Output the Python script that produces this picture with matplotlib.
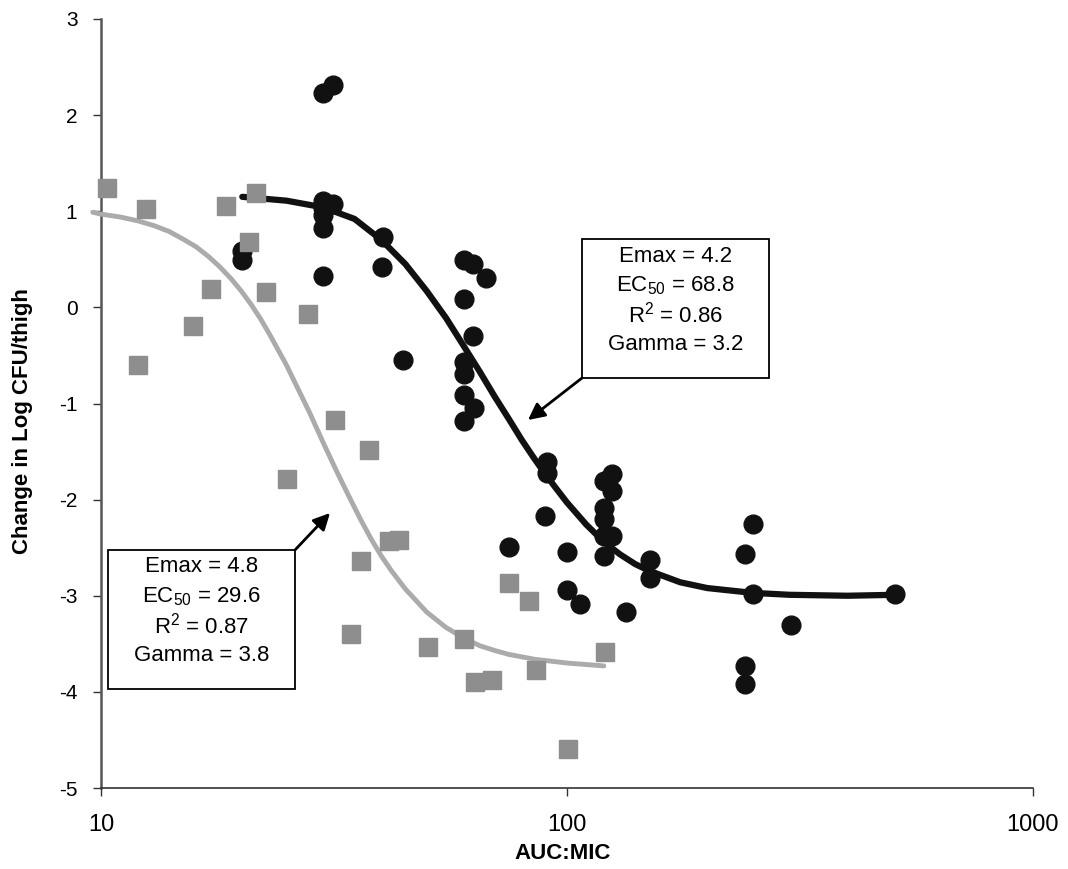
import matplotlib
matplotlib.use("Agg")
import matplotlib.pyplot as plt
from matplotlib.patches import Rectangle, FancyArrowPatch

plt.rcParams.update({
    "font.family": ["Liberation Sans", "DejaVu Sans"],
    "mathtext.default": "regular",
    "axes.unicode_minus": False,
})

# ── data ──────────────────────────────────────────────────────
sq_x = [10.3, 12.0, 12.5, 15.75, 17.2, 18.5, 20.8, 21.5, 22.6, 25.1, 27.8, 31.8, 34.4,
        36.1, 37.6, 41.5, 43.5, 50.3, 60.0, 63.4, 68.9, 75.0, 82.8, 85.7, 100.5, 120.5]
sq_y = [1.24, -0.60, 1.02, -0.19, 0.19, 1.05, 0.68, 1.19, 0.16, -1.79, -0.07, -1.17, -3.40,
        -2.64, -1.48, -2.43, -2.42, -3.53, -3.45, -3.90, -3.88, -2.87, -3.05, -3.77, -4.59, -3.59]

dot_x = [29.9, 31.5, 29.9, 31.5, 29.9, 29.9, 29.9, 29.9, 20.1, 20.1, 40.3, 40.1, 44.4,
         60.0, 62.8, 67.0, 60.0, 62.8, 60.0, 60.0, 60.0, 63.1, 60.0, 90.6, 90.6, 89.9,
         125.2, 120.0, 125.2, 120.0, 120.0, 120.0, 125.2, 120.0, 75.0, 99.8, 100.0, 106.6,
         134.1, 150.4, 150.4, 250.6, 241.4, 250.6, 302.4, 241.4, 241.4, 506.0]
dot_y = [2.23, 2.31, 1.11, 1.08, 1.03, 0.96, 0.83, 0.33, 0.59, 0.49, 0.73, 0.42, -0.55,
         0.49, 0.45, 0.31, 0.09, -0.30, -0.57, -0.69, -0.91, -1.05, -1.18, -1.61, -1.72, -2.17,
         -1.73, -1.81, -1.91, -2.09, -2.20, -2.38, -2.38, -2.59, -2.49, -2.55, -2.94, -3.09,
         -3.17, -2.63, -2.82, -2.25, -2.57, -2.98, -3.30, -3.73, -3.92, -2.98]

# fitted curves
fit_sq_x = [9.6, 10, 11, 12, 13, 14, 15, 16, 17, 18, 19, 20, 21, 22, 23, 25, 26, 28, 30,
            32, 34, 36, 38, 40, 42, 45, 50, 55, 60, 65, 70, 75, 85, 100, 120]
fit_sq_y = [0.99, 0.97, 0.94, 0.90, 0.85, 0.79, 0.71, 0.63, 0.53, 0.42, 0.30, 0.17, 0.03,
            -0.12, -0.28, -0.60, -0.77, -1.09, -1.41, -1.70, -1.96, -2.20, -2.41, -2.59,
            -2.74, -2.93, -3.17, -3.33, -3.44, -3.52, -3.57, -3.61, -3.66, -3.70, -3.73]

fit_dot_x = [20.1, 25, 30, 35, 40, 45, 50, 55, 60, 65, 70, 75, 80, 85, 90, 95, 100, 110,
             120, 130, 140, 150, 175, 200, 250, 300, 400, 506]
fit_dot_y = [1.15, 1.11, 1.04, 0.92, 0.70, 0.45, 0.17, -0.11, -0.40, -0.67, -0.93, -1.16,
             -1.38, -1.57, -1.74, -1.89, -2.03, -2.26, -2.44, -2.57, -2.67, -2.74, -2.86,
             -2.92, -2.97, -2.99, -3.00, -2.99]

box_dot = ["Emax = 4.2", "EC$_{50}$ = 68.8", "R$^{2}$ = 0.86", "Gamma = 3.2"]
box_sq = ["Emax = 4.8", "EC$_{50}$ = 29.6", "R$^{2}$ = 0.87", "Gamma = 3.8"]

W, H = 1068, 869
fig = plt.figure(figsize=(W/100, H/100), dpi=100)
ax = fig.add_axes([101/W, 1-788/H, 932/W, 769/H])

def fx(px): return px/W
def fy(py): return 1-py/H

ax.plot(fit_dot_x, fit_dot_y, color="#111111", lw=4.5, solid_capstyle="round",
        solid_joinstyle="round", zorder=2)
ax.plot(dot_x, dot_y, "o", color="#111111", ms=13.5, mec="#111111", zorder=3, clip_on=False)
ax.plot(fit_sq_x, fit_sq_y, color="#ababab", lw=3.5, solid_capstyle="round",
        solid_joinstyle="round", zorder=4, clip_on=False)
ax.plot(sq_x, sq_y, "s", color="#8e8e8e", ms=13.5, mec="#8e8e8e", zorder=5, clip_on=False)

ax.set_xscale("log")
ax.set_xlim(10, 1000)
ax.set_ylim(-5, 3)
ax.set_xticks([10, 100, 1000])
ax.set_xticklabels(["10", "100", "1000"])
ax.xaxis.set_minor_locator(matplotlib.ticker.NullLocator())
ax.set_yticks(range(-5, 4))
ax.tick_params(axis="y", direction="out", length=6, width=1, pad=11, labelsize=15, color="#333")
ax.tick_params(axis="x", direction="out", length=6, width=1, pad=13, labelsize=17, color="#333")
for s in ["top", "right"]:
    ax.spines[s].set_visible(False)
ax.spines["left"].set_color("#555555")
ax.spines["left"].set_linewidth(1.8)
ax.spines["bottom"].set_color("#333333")
ax.spines["bottom"].set_linewidth(1.2)

ax.set_ylabel("Change in Log CFU/thigh", fontsize=16, fontweight="bold", va="center")
ax.yaxis.set_label_coords(-0.0837, 0.477)
ax.set_xlabel("AUC:MIC", fontsize=16, fontweight="bold", va="center")
ax.xaxis.set_label_coords(0.4957, -0.0855)

def note(lines, x0, y0, x1, y1, corner, tip):
    fig.patches.append(Rectangle((fx(x0), fy(y1)), fx(x1-x0), (y1-y0)/H,
                                 transform=fig.transFigure, facecolor="white",
                                 edgecolor="black", lw=1.3, zorder=6))
    cx = (x0+x1)/2
    for i, t in enumerate(lines):
        fig.text(fx(cx), fy(y0+17+i*29.5), t, ha="center", va="center",
                 fontsize=16, zorder=7)
    fig.add_artist(FancyArrowPatch(
        (fx(corner[0]), fy(corner[1])), (fx(tip[0]), fy(tip[1])),
        transform=fig.transFigure, arrowstyle="-|>,head_length=10,head_width=5",
        color="black", lw=2, shrinkA=0, shrinkB=0, zorder=7))

note(box_dot, 582, 239, 769, 378, (582, 378), (528, 420))
note(box_sq, 108, 550, 295, 689, (295, 550), (330, 513))

fig.savefig("out.png", dpi=100, facecolor="white")
